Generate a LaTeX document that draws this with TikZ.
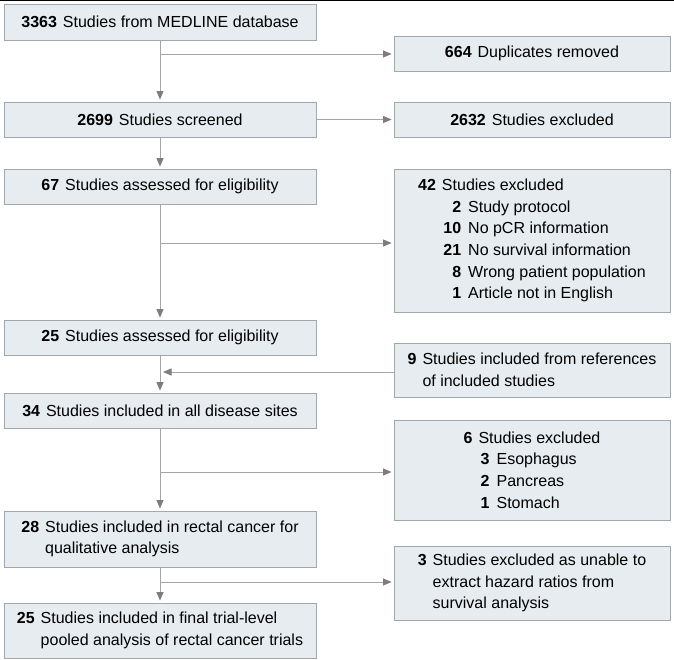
\documentclass[tikz,border=0pt]{standalone}
\usepackage{fontspec}
\setmainfont{Liberation Sans}
\usepackage{tikz}
\usetikzlibrary{arrows.meta}

\definecolor{boxfill}{RGB}{230,236,240}
\definecolor{boxline}{RGB}{160,168,172}
\definecolor{arrowgray}{RGB}{165,165,165}
\definecolor{tipgray}{RGB}{125,125,125}

\newcommand{\nb}[1]{\textbf{#1}\hspace{6pt}}
\newcommand{\itm}[3][43pt]{\makebox[#1][r]{\textbf{#2}}\hspace{7pt}#3}

\tikzset{
  box/.style={draw=boxline, fill=boxfill, line width=0.9pt, inner sep=0pt, font=\fontsize{16}{21.7}\selectfont},
  lbox/.style={box, minimum width=312pt},
  rbox/.style={box, minimum width=276pt},
  arr/.style={-{Triangle[length=8.5pt,width=7pt,color=tipgray]}, color=arrowgray, line width=0.9pt, shorten >=2pt}
}

\begin{document}
\begin{tikzpicture}[x=1pt,y=-1pt]
  \useasboundingbox (0,0) rectangle (674,660);
  \draw[line width=1.5pt] (0,0.75) -- (674,0.75);

  % main column
  \draw (160,22) node[lbox, minimum height=36pt] (b3363) {\nb{3363}Studies from MEDLINE database};
  \draw (160,119.5) node[lbox, minimum height=35pt] (b2699) {\nb{2699}Studies screened};
  \draw (160,186.5) node[lbox, minimum height=35pt] (b67) {\nb{67}Studies assessed for eligibility};
  \draw (160,337.5) node[lbox, minimum height=35pt] (b25) {\nb{25}Studies assessed for eligibility};
  \draw (160,410.5) node[lbox, minimum height=35pt] (b34) {\nb{34}Studies included in all disease sites};
  \draw (160,539) node[lbox, minimum height=56pt, align=left] (b28) {\nb{28}Studies included in rectal cancer for\\\phantom{\nb{28}}qualitative analysis};
  \draw (160,630.5) node[lbox, minimum height=55pt, align=left] (final) {\nb{25}Studies included in final trial-level\\\phantom{\nb{25}}pooled analysis of rectal cancer trials};

  % side boxes
  \draw (532,53.5) node[rbox, minimum height=35pt] (dupl) {\nb{664}Duplicates removed};
  \draw (532,119.5) node[rbox, minimum height=35pt] (excl2632) {\nb{2632}Studies excluded};
  \draw (532,240.5) node[rbox, minimum height=143pt, align=left] (excl42) {\nb{42}Studies excluded\\
    \itm{2}{Study protocol}\\
    \itm{10}{No pCR information}\\
    \itm{21}{No survival information}\\
    \itm{8}{Wrong patient population}\\
    \itm{1}{Article not in English}};
  \draw (532,370) node[rbox, minimum height=54pt, align=left] (incl9) {\nb{9}Studies included from references\\\phantom{\nb{9}}of included studies};
  \draw (532,470) node[rbox, minimum height=100pt, align=left] (excl6) {\nb{6}Studies excluded\\
    \itm[26pt]{3}{Esophagus}\\
    \itm[26pt]{2}{Pancreas}\\
    \itm[26pt]{1}{Stomach}};
  \draw (532,583) node[rbox, minimum height=74pt, align=left] (excl3) {\nb{3}Studies excluded as unable to\\\phantom{\nb{3}}extract hazard ratios from\\\phantom{\nb{3}}survival analysis};

  % branch points
  \coordinate (j1) at (160,54);
  \coordinate (j2) at (160,243);
  \coordinate (j3) at (161,372);
  \coordinate (j4) at (160,472);
  \coordinate (j5) at (160,582);

  \path[arr] (b3363) edge (b2699);
  \path[arr] (b2699) edge (b67);
  \path[arr] (b67) edge (b25);
  \path[arr] (b25) edge (b34);
  \path[arr] (b34) edge (b28);
  \path[arr] (b28) edge (final);
  \path[arr] (j1) edge (j1 -| dupl.west);
  \path[arr] (b2699) edge (excl2632);
  \path[arr] (j2) edge (j2 -| excl42.west);
  \path[arr] (j3 -| incl9.west) edge (j3);
  \path[arr] (j4) edge (j4 -| excl6.west);
  \path[arr] (j5) edge (j5 -| excl3.west);

\end{tikzpicture}
\end{document}
